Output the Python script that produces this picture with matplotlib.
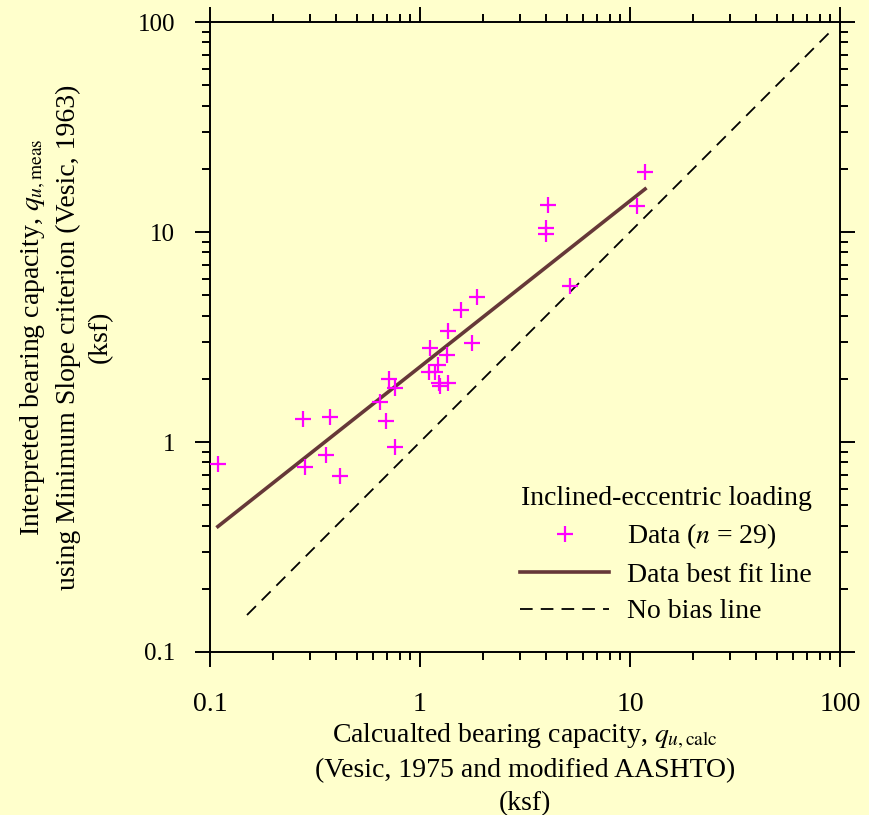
import numpy as np
import matplotlib
matplotlib.use('Agg')
import matplotlib.pyplot as plt

plt.rcParams['font.family'] = ['Liberation Serif', 'DejaVu Serif']
plt.rcParams['mathtext.fontset'] = 'stix'

# data (ksf)
q_calc = [0.109, 0.278, 0.282, 0.374, 0.358, 0.415, 0.712, 0.763, 0.645, 0.687,
          0.758, 1.12, 1.76, 1.345, 1.214, 1.107, 1.18, 1.23, 1.245, 1.36,
          1.36, 1.567, 1.87, 5.18, 3.97, 3.97, 4.08, 10.8, 11.8]
q_meas = [0.785, 1.29, 0.763, 1.31, 0.867, 0.689, 1.99, 1.81, 1.55, 1.26,
          0.95, 2.81, 2.95, 2.59, 2.33, 2.16, 2.15, 1.92, 1.85, 1.92,
          3.39, 4.25, 4.90, 5.53, 9.78, 10.4, 13.5, 13.3, 19.3]

# best fit q_meas = a * q_calc^b
fit_a = 2.28
fit_b = 0.79
fit_range = [0.109, 11.8]
nobias_range = [0.15, 90]

bg = '#FFFFCC'
fig = plt.figure(figsize=(8.7, 8.15), dpi=100, facecolor=bg)
ax = fig.add_axes([0.2414, 0.2, 0.7241, 0.773])
ax.set_facecolor(bg)

ax.plot(q_calc, q_meas, '+', color='#FF00FF', ms=11, mew=1.6,
        label='Data ($n$ = 29)', zorder=4)
xf = np.array(fit_range)
ax.plot(xf, fit_a * xf ** fit_b, '-', color='#663838', lw=2.6,
        label='Data best fit line', zorder=3)
ax.plot(nobias_range, nobias_range, '--', color='black', lw=1.3,
        dashes=(7, 4.5), label='No bias line', zorder=2)

ax.set_xscale('log')
ax.set_yscale('log')
ax.set_xlim(0.1, 100)
ax.set_ylim(0.1, 100)
ax.set_xticks([0.1, 1, 10, 100])
ax.set_xticklabels(['0.1', '1', '10', '100'])
ax.set_yticks([0.1, 1, 10, 100])
ax.set_yticklabels(['0.1', '1', '10', '100'])

for s in ax.spines.values():
    s.set_linewidth(1.4)
ax.tick_params(which='both', direction='out', top=True, right=True,
               width=1.4, colors='black')
ax.tick_params(which='major', length=11, pad=14)
ax.tick_params(which='minor', length=6)
ax.tick_params(axis='x', labelsize=20, pad=18)
ax.tick_params(axis='y', labelsize=18)

ax.set_xlabel('Calcualted bearing capacity, $q_{u,\\mathrm{calc}}$\n'
              '(Vesic, 1975 and modified AASHTO)\n(ksf)',
              fontsize=20, linespacing=1.4, labelpad=3)
ax.set_ylabel('Interpreted bearing capacity, $q_{u,\\mathrm{meas}}$\n'
              'using Minimum Slope criterion (Vesic, 1963)\n(ksf)',
              fontsize=20, linespacing=1.38, labelpad=18)

leg = ax.legend(title='Inclined-eccentric loading', loc='lower right',
                bbox_to_anchor=(0.995, 0.004), frameon=False, fontsize=20,
                title_fontsize=20, handlelength=3.2, labelspacing=0.4,
                handletextpad=0.65)

fig.savefig('out.png', dpi=100, facecolor=bg)
